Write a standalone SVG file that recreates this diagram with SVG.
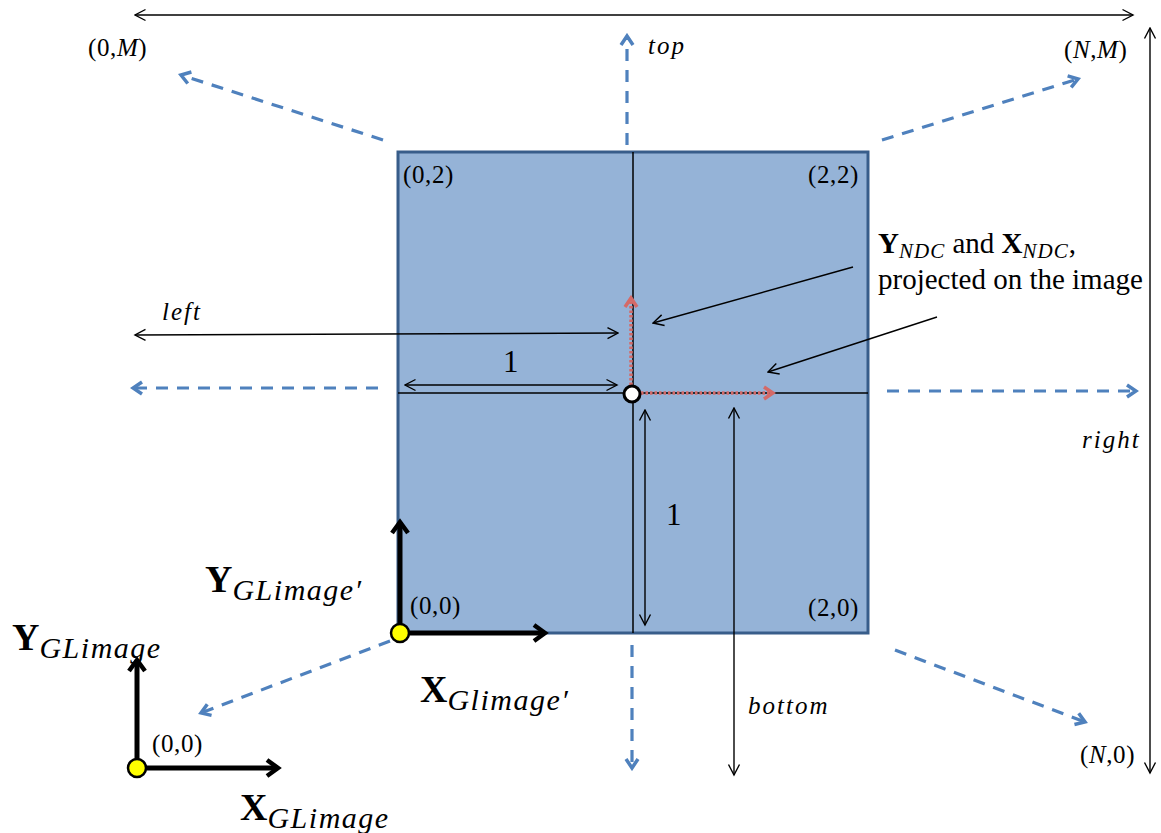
<svg xmlns="http://www.w3.org/2000/svg" width="1161" height="833" viewBox="0 0 1161 833">
<style>
.t{font-family:"Liberation Serif","Times New Roman",serif;fill:#000}
.i{font-style:italic}
.m{font-style:italic;letter-spacing:2px}
.b{font-weight:bold}
.thin{stroke:#000;stroke-width:1.4;fill:none}
.dash{stroke:#4f81bd;stroke-width:3.2;stroke-dasharray:12 9;fill:none}
.red{stroke:#d46a68;stroke-width:3.5;stroke-dasharray:2.5 2;fill:none}
.thick{stroke:#000;stroke-width:5;fill:none}
</style>
<defs>
<marker id="ah" viewBox="0 0 14 14" refX="12.5" refY="7" markerWidth="14" markerHeight="14" markerUnits="userSpaceOnUse" orient="auto-start-reverse">
<path d="M2,1.5 L12.5,7 L2,12.5" fill="none" stroke="#000" stroke-width="1.4"/>
</marker>
<marker id="bh" viewBox="0 0 16 16" refX="13" refY="8" markerWidth="16" markerHeight="16" markerUnits="userSpaceOnUse" orient="auto">
<path d="M4,2 L13,8 L4,14" fill="none" stroke="#4f81bd" stroke-width="3.5"/>
</marker>
<marker id="rh" viewBox="0 0 16 16" refX="13" refY="8" markerWidth="16" markerHeight="16" markerUnits="userSpaceOnUse" orient="auto">
<path d="M4,2 L13,8 L4,14" fill="none" stroke="#d46a68" stroke-width="3.5"/>
</marker>
<marker id="kh" viewBox="0 0 20 20" refX="16" refY="10" markerWidth="20" markerHeight="20" markerUnits="userSpaceOnUse" orient="auto">
<path d="M5,2 L16,10 L5,18" fill="none" stroke="#000" stroke-width="4.5"/>
</marker>
</defs>

<g id="image-rect">
<rect x="398" y="152" width="470" height="481" fill="#95b3d7" stroke="#385d8a" stroke-width="3"/>
<line x1="633" y1="152" x2="633" y2="633" stroke="#000" stroke-width="1.5"/>
<line x1="398" y1="393" x2="868" y2="393" stroke="#000" stroke-width="1.5"/>
</g>

<g id="connectors">
<path class="dash" d="M627,145 L627,36" marker-end="url(#bh)"/>
<path class="dash" d="M383,140 L181,75" marker-end="url(#bh)"/>
<path class="dash" d="M882,140 L1078,79" marker-end="url(#bh)"/>
<path class="dash" d="M378,388 L133,388" marker-end="url(#bh)"/>
<path class="dash" d="M887,391 L1136,391" marker-end="url(#bh)"/>
<path class="dash" d="M390,641 L201,713" marker-end="url(#bh)"/>
<path class="dash" d="M632,645 L632,768" marker-end="url(#bh)"/>
<path class="dash" d="M895,650 L1085,722" marker-end="url(#bh)"/>

<path class="thin" d="M135,15 L1133,15" marker-start="url(#ah)" marker-end="url(#ah)"/>
<path class="thin" d="M1150,28 L1150,773" marker-start="url(#ah)" marker-end="url(#ah)"/>
<path class="thin" d="M135,335 L618,333" marker-start="url(#ah)" marker-end="url(#ah)"/>
<path class="thin" d="M405,385 L617,385" marker-start="url(#ah)" marker-end="url(#ah)"/>
<path class="thin" d="M645,410 L645,625" marker-start="url(#ah)" marker-end="url(#ah)"/>
<path class="thin" d="M734,408 L734,775" marker-start="url(#ah)" marker-end="url(#ah)"/>
<path class="thin" d="M853,267 L653,323" marker-end="url(#ah)"/>
<path class="thin" d="M937,317 L768,372" marker-end="url(#ah)"/>

<path class="red" d="M631,385 L631,298" marker-end="url(#rh)"/>
<path class="red" d="M641,393 L773,393" marker-end="url(#rh)"/>

<path class="thick" d="M400,633 L400,522" marker-end="url(#kh)"/>
<path class="thick" d="M400,633 L545,633" marker-end="url(#kh)"/>
<path class="thick" d="M137,768 L137,660" marker-end="url(#kh)"/>
<path class="thick" d="M137,768 L278,768" marker-end="url(#kh)"/>
</g>

<g id="origins">
<circle cx="632" cy="394" r="8" fill="#fff" stroke="#000" stroke-width="3"/>
<circle cx="400" cy="633" r="9" fill="#ffff00" stroke="#000" stroke-width="2.5"/>
<circle cx="137" cy="768" r="9" fill="#ffff00" stroke="#000" stroke-width="2.5"/>
</g>

<g id="labels" class="t" font-size="25" letter-spacing="0.6">
<text x="88" y="56">(0,<tspan class="i">M</tspan>)</text>
<text x="1064" y="58">(<tspan class="i">N</tspan>,<tspan class="i">M</tspan>)</text>
<text x="1080" y="763">(<tspan class="i">N</tspan>,0)</text>
<text x="648" y="54" class="m">top</text>
<text x="162" y="320" class="m" letter-spacing="4">left</text>
<text x="1082" y="448" class="m">right</text>
<text x="748" y="714" class="m">bottom</text>
<text x="403" y="183">(0,2)</text>
<text x="808" y="183">(2,2)</text>
<text x="808" y="616">(2,0)</text>
<text x="410" y="614">(0,0)</text>
<text x="152" y="752">(0,0)</text>
<text x="503" y="372" font-size="31">1</text>
<text x="666" y="525" font-size="31">1</text>
<text x="878" y="253" font-size="29" letter-spacing="0"><tspan class="b">Y</tspan><tspan class="i" font-size="21" dy="5" letter-spacing="1">NDC</tspan><tspan dy="-5"> and </tspan><tspan class="b">X</tspan><tspan class="i" font-size="21" dy="5" letter-spacing="1">NDC</tspan><tspan dy="-5">,</tspan></text>
<text x="878" y="289" font-size="29" letter-spacing="0">projected on the image</text>
<text x="205" y="592" font-size="38" letter-spacing="0"><tspan class="b">Y</tspan><tspan class="i" font-size="30" dy="8" letter-spacing="1.5">GLimage′</tspan></text>
<text x="12" y="650" font-size="38" letter-spacing="0"><tspan class="b">Y</tspan><tspan class="i" font-size="30" dy="8" letter-spacing="1.5">GLimage</tspan></text>
<text x="420" y="702" font-size="38" letter-spacing="0"><tspan class="b">X</tspan><tspan class="i" font-size="30" dy="8" letter-spacing="1.5">Glimage′</tspan></text>
<text x="240" y="820" font-size="38" letter-spacing="0"><tspan class="b">X</tspan><tspan class="i" font-size="30" dy="8" letter-spacing="1.5">GLimage</tspan></text>
</g>
</svg>
